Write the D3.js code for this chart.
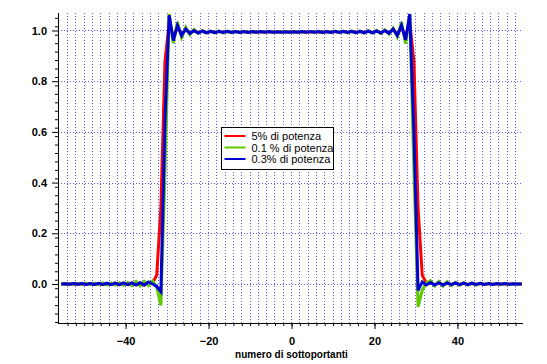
<!DOCTYPE html>
<html>
<head>
<meta charset="utf-8">
<script src="https://cdn.jsdelivr.net/npm/d3@7"></script>
<style>
  body { margin: 0; background: #fff; }
  svg { display: block; }
  .tick_labels text { font-family: "Liberation Sans", Arial, sans-serif; font-weight: bold; font-size: 11px; fill: #000; }
  .axis_title { font-family: "Liberation Sans", Arial, sans-serif; font-weight: bold; font-size: 10px; }
  .legend_text { font-family: "Liberation Sans", Arial, sans-serif; font-size: 11px; }
</style>
</head>
<body>
<div id="chart"></div>
<script>
(function () {

  // Subcarrier positions (half-integer steps)
  const subcarriers = d3.range(-55.5, 56, 1)

  // Series
  const power5 = [
    0.000, 0.001, -0.001, 0.001, -0.001, 0.001, -0.001, 0.002, -0.002, 0.002, -0.002, 0.002,
    -0.002, 0.003, -0.003, 0.003, -0.003, 0.004, -0.003, 0.004, -0.004, 0.006, 0.004, 0.035,
    0.300, 0.880,
    1.030, 0.978, 1.010, 0.988, 1.002, 0.991, 0.998, 0.992, 0.997, 0.992, 0.996, 0.993, 0.996, 0.993, 0.996, 0.993, 0.996, 0.993, 0.996, 0.993,
    0.995, 0.994, 0.995, 0.994, 0.995, 0.994, 0.995, 0.994, 0.995, 0.994, 0.995, 0.994, 0.995, 0.994, 0.995, 0.994, 0.995, 0.994, 0.995, 0.994,
    0.996, 0.993, 0.996, 0.993, 0.996, 0.993, 0.996, 0.992, 0.997, 0.992, 0.998, 0.991,
    1.000, 0.989, 1.004, 0.985, 1.010, 0.980, 1.030,
    0.880, 0.300,
    0.035, 0.004, 0.006, -0.004, 0.004, -0.003, 0.004, -0.003, 0.003, -0.003, 0.003, -0.002, 0.002,
    -0.002, 0.002, -0.002, 0.002, -0.001, 0.001, -0.001, 0.001, -0.001, 0.001, 0.000, 0.000
  ]

  const power01 = [
    0.001, -0.001, 0.002, -0.002, 0.002, -0.002, 0.003, -0.003, 0.003, -0.003, 0.004, -0.004, 0.004, -0.004, 0.005,
    -0.005, 0.006, -0.006, 0.010, -0.008, 0.010, -0.006, 0.012, -0.012,
    -0.085, 0.450,
    1.065, 0.950, 1.033, 0.972, 1.012, 0.984, 1.004, 0.989, 0.999, 0.990, 0.998, 0.991, 0.998, 0.991, 0.997, 0.992, 0.997, 0.992, 0.997, 0.992,
    0.996, 0.993, 0.996, 0.993, 0.996, 0.993, 0.996, 0.993, 0.996, 0.993, 0.996, 0.993, 0.996, 0.993, 0.996, 0.993, 0.997, 0.992, 0.997, 0.992,
    0.997, 0.992, 0.997, 0.991, 0.998, 0.991, 0.998, 0.990, 0.999, 0.990, 1.000, 0.988,
    1.003, 0.986, 1.009, 0.975, 1.033, 0.948, 1.065,
    0.450, -0.090,
    -0.025, 0.004, 0.013, -0.008, 0.010, -0.008, 0.009, -0.006, 0.006, -0.005, 0.005, -0.004, 0.004,
    -0.004, 0.003, -0.003, 0.003, -0.003, 0.002, -0.002, 0.002, -0.002, 0.001, -0.001, 0.001
  ]

  const power03 = [
    0.000, 0.001, -0.001, 0.002, -0.001, 0.002, -0.002, 0.002, -0.002, 0.003, -0.002, 0.003,
    -0.003, 0.003, -0.003, 0.004, -0.003, 0.004, -0.004, 0.005, -0.004, 0.008, 0.000, -0.010,
    -0.030, 0.650,
    1.060, 0.960, 1.020, 0.980, 1.006, 0.988, 1.000, 0.990, 0.998, 0.991, 0.997, 0.991, 0.997, 0.992, 0.997, 0.992, 0.996, 0.992, 0.996, 0.992,
    0.996, 0.993, 0.996, 0.993, 0.996, 0.993, 0.995, 0.993, 0.995, 0.993, 0.995, 0.993, 0.996, 0.993, 0.996, 0.993, 0.996, 0.992, 0.996, 0.992,
    0.997, 0.992, 0.997, 0.992, 0.997, 0.991, 0.997, 0.991, 0.998, 0.991, 0.998, 0.990,
    1.000, 0.989, 1.006, 0.980, 1.020, 0.963, 1.065,
    0.600, -0.025,
    0.008, -0.004, 0.006, -0.004, 0.005, -0.004, 0.004, -0.003, 0.004, -0.003, 0.003, -0.003, 0.003,
    -0.002, 0.003, -0.002, 0.002, -0.002, 0.002, -0.001, 0.002, -0.001, 0.001, 0.000, 0.000
  ]

  const seriesNames = ["5% di potenza", "0.1 % di potenza", "0.3% di potenza"]
  const seriesColors = ["#ff0000", "#5fc800", "#0000d2"]
  const seriesValues = [power5, power01, power03]

  // Tick labels
  const xMajorTicks = [-40, -20, 0, 20, 40]
  const yMajorTicks = [0, 0.2, 0.4, 0.6, 0.8, 1.0]

  // Plot box, measured in pixels
  const plot = { left: 58, right: 523, top: 13, bottom: 323 }

  const xScale = d3.scaleLinear()
    .domain([-56.3, 55.8])
    .range([plot.left, plot.right])

  const yScale = d3.scaleLinear()
    .domain([-0.154, 1.069])
    .range([plot.bottom, plot.top])

  const svg = d3.select("#chart").append("svg")
    .attr("width", 547)
    .attr("height", 364)

  // Grid
  const gridColor = "#5c5cff"
  svg.append("g")
    .selectAll("line")
    .data(d3.range(-54, 55, 2))
    .join("line")
    .attr("x1", d => xScale(d)).attr("x2", d => xScale(d))
    .attr("y1", plot.top).attr("y2", plot.bottom)
    .attr("stroke", gridColor)
    .attr("stroke-width", 1)
    .attr("stroke-dasharray", "1,2")
    .attr("shape-rendering", "crispEdges")

  svg.append("g")
    .selectAll("line")
    .data(yMajorTicks)
    .join("line")
    .attr("x1", plot.left).attr("x2", plot.right)
    .attr("y1", d => Math.round(yScale(d)) + 0.5).attr("y2", d => Math.round(yScale(d)) + 0.5)
    .attr("stroke", gridColor)
    .attr("stroke-width", 1)
    .attr("stroke-dasharray", "1,2")

  // Lines
  const line = d3.line()
    .x((d, i) => xScale(subcarriers[i]))
    .y(d => yScale(d))

  svg.append("g")
    .selectAll("path")
    .data(seriesValues)
    .join("path")
    .attr("d", d => line(d))
    .attr("fill", "none")
    .attr("stroke", (d, i) => seriesColors[i])
    .attr("stroke-width", 3)
    .attr("stroke-linejoin", "miter")

  // x axis
  svg.append("g")
    .attr("transform", `translate(0,${plot.bottom})`)
    .call(d3.axisBottom(xScale).tickValues(d3.range(-54, 55, 2)).tickSize(3).tickFormat(""))
    .call(g => g.select(".domain").remove())
  svg.append("g")
    .attr("class", "tick_labels")
    .attr("transform", `translate(0,${plot.bottom})`)
    .call(d3.axisBottom(xScale).tickValues(xMajorTicks).tickSize(6).tickPadding(8).tickFormat(d3.format("d")))
    .call(g => g.select(".domain").remove())

  // y axis
  svg.append("g")
    .attr("transform", `translate(${plot.left},0)`)
    .call(d3.axisLeft(yScale).tickValues(d3.range(-0.15, 1.07, 0.2 / 6)).tickSize(3).tickFormat(""))
    .call(g => g.select(".domain").remove())
  svg.append("g")
    .attr("class", "tick_labels")
    .attr("transform", `translate(${plot.left},0)`)
    .call(d3.axisLeft(yScale).tickValues(yMajorTicks).tickSize(6).tickPadding(5).tickFormat(d3.format(".1f")))
    .call(g => g.select(".domain").remove())

  svg.selectAll(".tick line").attr("stroke", "#000")

  // axis lines
  svg.append("line")
    .attr("x1", plot.left + 0.5).attr("x2", plot.left + 0.5)
    .attr("y1", plot.top).attr("y2", plot.bottom + 0.5)
    .attr("stroke", "#000")
  svg.append("line")
    .attr("x1", plot.left).attr("x2", plot.right)
    .attr("y1", plot.bottom + 0.5).attr("y2", plot.bottom + 0.5)
    .attr("stroke", "#000")

  svg.append("text")
    .attr("class", "axis_title")
    .attr("x", (plot.left + plot.right) / 2 + 1)
    .attr("y", 358)
    .attr("text-anchor", "middle")
    .text("numero di sottoportanti")

  // Legend
  const legend = svg.append("g").attr("transform", "translate(221.5,127.5)")
  legend.append("rect")
    .attr("width", 112).attr("height", 42)
    .attr("fill", "#fff").attr("stroke", "#000")
  const rows = legend.selectAll("g")
    .data(seriesNames)
    .join("g")
    .attr("transform", (d, i) => `translate(0,${8.5 + i * 11.5})`)
  rows.append("line")
    .attr("x1", 3).attr("x2", 24)
    .attr("stroke", (d, i) => seriesColors[i])
    .attr("stroke-width", 2)
  rows.append("text")
    .attr("class", "legend_text")
    .attr("x", 30).attr("y", 4)
    .text(d => d)

})();
</script>
</body>
</html>
